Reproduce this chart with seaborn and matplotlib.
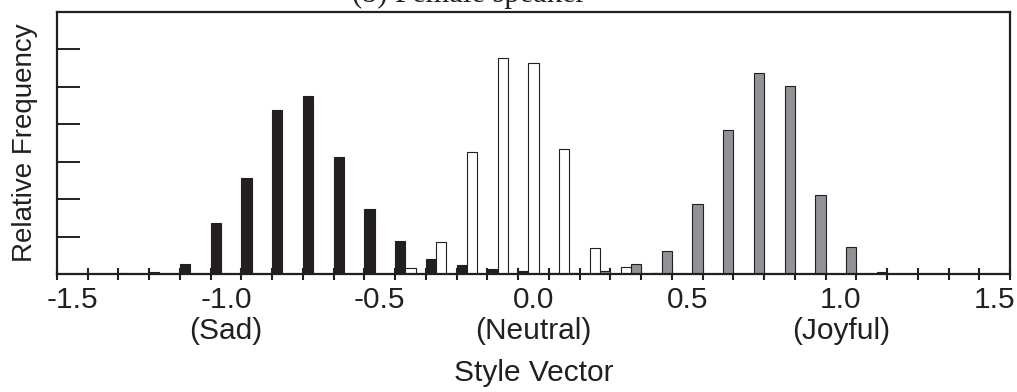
import matplotlib
matplotlib.use("Agg")
import matplotlib.pyplot as plt
import numpy as np
import pandas as pd
import seaborn as sns

# ---- data ----
bins = ["-1.5", "-1.4", "-1.3", "-1.2", "-1.1", "-1.0", "-0.9", "-0.8", "-0.7", "-0.6",
        "-0.5", "-0.4", "-0.3", "-0.2", "-0.1", "0.0", "0.1", "0.2", "0.3", "0.4",
        "0.5", "0.6", "0.7", "0.8", "0.9", "1.0", "1.1", "1.2", "1.3", "1.4", "1.5"]

sad = [0, 0, 0.001, 0.003, 0.014, 0.068, 0.128, 0.219, 0.238, 0.156,
       0.087, 0.044, 0.020, 0.012, 0.007, 0.004, 0.001, 0, 0, 0,
       0, 0, 0, 0, 0, 0, 0, 0, 0, 0, 0]
neutral = [0, 0, 0, 0, 0, 0, 0, 0, 0, 0,
           0, 0.008, 0.043, 0.163, 0.289, 0.282, 0.167, 0.035, 0.010, 0.001,
           0, 0, 0, 0, 0, 0, 0, 0, 0, 0, 0]
joyful = [0, 0, 0, 0, 0, 0, 0, 0, 0, 0,
          0, 0, 0, 0, 0, 0, 0.001, 0.004, 0.013, 0.031,
          0.093, 0.193, 0.268, 0.251, 0.106, 0.036, 0.003, 0, 0, 0, 0]

groups = ["Sad", "Neutral", "Joyful"]
colors = {"Sad": "#231f20", "Neutral": "#ffffff", "Joyful": "#919296"}

tick_values = ["-1.5", "-1.0", "-0.5", "0.0", "0.5", "1.0", "1.5"]
tick_texts = ["-1.5", "-1.0\n(Sad)", "-0.5", "0.0\n(Neutral)", "0.5", "1.0\n(Joyful)", "1.5"]

title = "(b) Female speaker"
xlabel = "Style Vector"
ylabel = "Relative Frequency"

df = pd.DataFrame({
    "bin": bins * 3,
    "freq": sad + neutral + joyful,
    "group": ["Sad"] * len(bins) + ["Neutral"] * len(bins) + ["Joyful"] * len(bins),
})

# ---- style ----
sns.set_theme(style="white")
plt.rcParams["font.family"] = ["Liberation Sans", "DejaVu Sans"]
ink = "#231f20"
plt.rcParams["text.color"] = ink
plt.rcParams["axes.labelcolor"] = ink
plt.rcParams["xtick.color"] = ink
plt.rcParams["ytick.color"] = ink

W, H = 1017, 392
fig = plt.figure(figsize=(W / 100, H / 100), dpi=100)
ax = fig.add_axes([57 / W, 1 - 274 / H, (1010 - 57) / W, (274 - 12) / H])

sns.barplot(data=df, x="bin", y="freq", hue="group", order=bins, hue_order=groups,
            palette=colors, width=1.0, gap=0, errorbar=None, edgecolor=ink,
            linewidth=0.8, legend=False, saturation=1, ax=ax)

ax.set_xlim(-0.5, len(bins) - 0.5)
ax.set_ylim(0, 0.35)

pos = [bins.index(v) for v in tick_values]
ax.set_xticks(pos, labels=tick_texts)
ax.set_xticks(np.arange(-0.5, len(bins), 1.0), minor=True)
ax.set_yticks(np.arange(0, 0.351, 0.05))
ax.tick_params(axis="x", which="both", bottom=True, top=False)
ax.tick_params(axis="y", which="both", left=True, right=False)
ax.tick_params(axis="x", which="major", length=0, pad=9, labelsize=21.5)
ax.tick_params(axis="x", which="minor", direction="inout", length=9, width=1.5)
ax.tick_params(axis="y", which="major", direction="in", length=16.5, width=1.4,
               labelleft=False)
for lab in ax.get_xticklabels():
    lab.set_linespacing(1.1)

for s in ax.spines.values():
    s.set_linewidth(1.6)
    s.set_color(ink)
    s.set_visible(True)

ax.set_xlabel(xlabel, fontsize=21.5, labelpad=10)
ax.set_ylabel(ylabel, fontsize=20, labelpad=14)

fig.text(352 / W, 1 - 2 / H, title, ha="left", va="baseline", fontsize=22,
         family=["Liberation Serif", "DejaVu Serif"], color=ink)

fig.savefig("out.png", dpi=100)
